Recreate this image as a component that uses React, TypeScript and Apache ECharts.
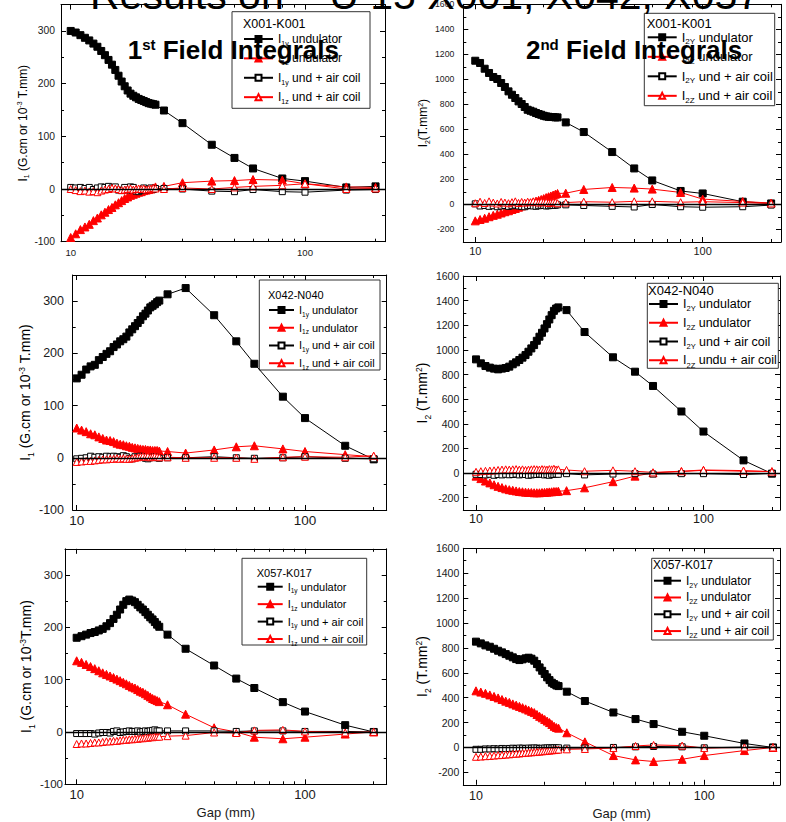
import React, { useEffect, useRef } from "react";
import * as echarts from "echarts";

// ---------- DATA ----------
const GAPS = [10, 10.5, 11, 11.5, 12, 12.5, 13, 13.5, 14, 14.5, 15, 15.5, 16, 16.5, 17, 17.5, 18, 18.5, 19, 19.5, 20, 20.5, 21, 21.5, 22, 22.5, 23, 25, 30, 40, 50, 60, 80, 100, 150, 200];

const X_MAJOR = [10, 100];
const X_MINOR = [20, 30, 40, 50, 60, 70, 80, 90, 200];

// X001-K001, first field integrals
const P1_I1Y_UND = [300, 297, 292, 287, 282, 276, 270, 262, 254, 245, 236, 226, 215, 204, 195, 187, 181, 177, 174, 171, 169, 167, 165, 163, 162, 161, 160, 149, 125, 84, 59, 39, 20, 15, 3, 5];
const P1_I1Z_UND = [-92, -85, -77, -72, -67, -60, -55, -49, -44, -39, -35, -30, -26, -22, -18, -15, -12, -10, -8, -6, -5, -3, -2, -1, 0, 2, 4, 5, 12, 15, 16, 18, 17, 10, 4, 3];
const P1_I1Y_AIR = [3, 2, 3, 1, 3, -1, 2, 4, 3, 5, 2, 4, -2, -3, 3, -2, 4, 3, -4, -5, -3, 2, -2, 0, 2, -1, 1, 1, 0, -4, -5, -1, -5, -6, -2, -1];
const P1_I1Z_AIR = [0, -2, -4, -3, -5, -4, -6, -3, -1, 0, 2, 1, 0, -2, -1, 0, 1, -1, 0, 1, 0, 1, -1, 0, 1, 2, 1, 0, 2, 0, 3, 5, 7, 10, 0, 1];

// X001-K001, second field integrals
const P2_I2Y_UND = [1149, 1131, 1085, 1051, 1019, 1003, 971, 939, 904, 877, 851, 824, 803, 779, 757, 749, 741, 731, 723, 717, 709, 704, 701, 699, 699, 696, 696, 656, 579, 419, 288, 192, 108, 88, 22, 8];
const P2_I2Z_UND = [-131, -120, -110, -98, -87, -78, -68, -58, -50, -40, -32, -22, -12, -3, 5, 12, 20, 27, 33, 40, 47, 55, 62, 68, 75, 82, 88, 90, 120, 136, 131, 123, 96, 43, 24, 11];
const P2_I2Y_AIR = [5, -12, -8, -15, -10, -18, -12, -8, -15, -10, -5, -12, -15, -18, -10, -8, -12, -14, -10, -6, -8, -12, -10, -5, -8, -6, -3, -3, -8, -15, -20, 0, -18, -22, -18, -5];
const P2_I2Z_AIR = [10, 22, 12, 25, 15, 8, 20, 15, 10, 18, 25, 12, 20, 15, 22, 18, 25, 20, 15, 22, 18, 20, 12, 15, 20, 18, 10, 15, 22, 18, 25, 25, 18, 22, 15, 8];

// X042-N040, first field integrals
const P3_I1Y_UND = [152, 159, 169, 175, 178, 187, 193, 199, 204, 212, 217, 223, 227, 232, 240, 246, 252, 258, 264, 271, 276, 282, 288, 291, 294, 298, 301, 313, 325, 273, 223, 180, 117, 76, 23, -3];
const P3_I1Z_UND = [57, 53, 50, 46, 44, 40, 37, 34, 33, 31, 28, 26, 25, 23, 22, 20, 19, 18, 17, 16, 16, 15, 15, 14, 14, 14, 13, 12, 9, 15, 21, 23, 17, 12, 6, 2];
const P3_I1Y_AIR = [-2, -1, 0, 3, 1, 2, 1, 3, 2, 3, 2, 1, 4, 2, -1, -2, 2, 1, 3, 2, -1, -2, 0, 1, 2, 0, -1, 0, 0, 2, 0, -1, 0, 2, -1, -2];
const P3_I1Z_AIR = [-8, -7, -6, -6, -5, -4, -3, -3, -2, -2, -1, -2, -1, -2, -2, -1, 0, 1, 2, 3, 2, 3, 1, 2, 3, 2, 1, 1, 0, 0, 0, -2, 1, 2, 1, 4];

// X042-N040, second field integrals
const P4_I2Y_UND = [923, 891, 869, 856, 848, 842, 848, 853, 864, 883, 899, 918, 937, 958, 985, 1012, 1039, 1074, 1107, 1139, 1174, 1209, 1247, 1282, 1317, 1336, 1345, 1323, 1145, 940, 823, 707, 500, 337, 103, -5];
const P4_I2Z_UND = [-25, -45, -65, -80, -95, -108, -118, -128, -135, -140, -145, -150, -152, -155, -157, -158, -160, -160, -160, -158, -157, -155, -153, -152, -150, -150, -148, -143, -120, -70, -25, 2, 12, 22, 15, 12];
const P4_I2Y_AIR = [-10, -12, -15, -10, -18, -12, -15, -10, -14, -12, -8, -15, -10, -12, -18, -15, -10, -12, -8, -10, -15, -12, -18, -10, -12, -8, -10, -5, -15, -8, -5, -8, -5, -5, -12, -3];
const P4_I2Z_AIR = [10, 15, 18, 20, 22, 25, 28, 30, 28, 30, 32, 28, 30, 25, 28, 30, 32, 30, 28, 32, 30, 28, 32, 30, 35, 28, 30, 25, 15, 22, 15, 5, 15, 25, 20, 12];

// X057-K017, first field integrals
const P5_I1Y_UND = [180, 183, 186, 189, 191, 194, 197, 202, 208, 216, 224, 234, 243, 250, 253, 251, 248, 243, 238, 234, 229, 224, 219, 215, 210, 205, 201, 186, 159, 127, 102, 84, 57, 39, 13, 0];
const P5_I1Z_UND = [136, 133, 129, 125, 121, 117, 113, 110, 107, 104, 101, 98, 95, 92, 89, 86, 84, 81, 78, 76, 73, 70, 67, 64, 62, 60, 58, 52, 34, 8, 0, -10, -13, -10, -4, 0];
const P5_I1Y_AIR = [-3, -3, -3, -3, -4, -2, -1, -1, -2, 1, 2, -1, 0, 1, 2, 1, 1, 2, 0, 1, 2, 1, 2, 3, 4, 2, 2, 2, 2, 2, 1, 2, 2, 1, 1, 0];
const P5_I1Z_AIR = [-23, -22, -22, -21, -20, -20, -19, -18, -18, -17, -17, -16, -15, -15, -14, -14, -13, -13, -12, -12, -11, -11, -10, -10, -9, -9, -9, -8, -7, -1, -2, 3, 4, 1, -1, 0];

// X057-K017, second field integrals
const P6_I2Y_UND = [850, 836, 820, 809, 793, 777, 764, 750, 737, 724, 710, 702, 708, 716, 721, 713, 697, 670, 643, 616, 590, 563, 541, 520, 509, 498, 493, 448, 373, 281, 228, 188, 126, 94, 32, 0];
const P6_I2Z_UND = [455, 445, 435, 422, 410, 398, 385, 372, 362, 350, 340, 330, 320, 310, 300, 290, 280, 265, 250, 238, 225, 212, 200, 185, 170, 160, 155, 118, 45, -65, -100, -113, -95, -65, -25, 0];
const P6_I2Y_AIR = [-15, -15, -12, -12, -10, -12, -8, -10, -8, -6, -8, -5, -6, -8, -5, -6, -4, -5, -8, -6, -5, -4, -3, -5, -2, -4, -3, -5, -5, 0, 5, 8, 5, -3, 3, 0];
const P6_I2Z_AIR = [-75, -73, -70, -68, -65, -62, -60, -57, -55, -52, -50, -48, -45, -43, -41, -39, -37, -35, -33, -31, -29, -27, -25, -23, -21, -19, -17, -15, -12, -5, 12, 20, 15, -5, 0, 0];

// ---------- TEXTS ----------
const MAIN_TITLE = "Results on \u2013 U 15 X001, X042, X057";
const FIRST_TITLE = "{b|1}{p|st}{b| Field Integrals}";
const SECOND_TITLE = "{b|2}{p|nd}{b| Field Integrals}";
const GAP_NAME = "Gap (mm)";

const I1_LEGEND = ["{m|I}{s|1y}{m| undulator}", "{m|I}{s|1z}{m| undulator}", "{m|I}{s|1y}{m| und + air coil}", "{m|I}{s|1z}{m| und + air coil}"];
const I2_LEGEND = ["{m|I}{s|2Y}{m| undulator}", "{m|I}{s|2Z}{m| undulator}", "{m|I}{s|2Y}{m| und + air coil}", "{m|I}{s|2Z}{m| und + air coil}"];
const I2_LEGEND_B = ["{m|I}{s|2Y}{m| undulator}", "{m|I}{s|2Z}{m| undulator}", "{m|I}{s|2Y}{m| und + air coil}", "{m|I}{s|2Z}{m| undu + air coil}"];

const I1_NAME = "{m|I}{s|1}{m| (G.cm or 10}{p|-3}{m| T.mm)}";
const I1_NAME_B = "{m|I}{s|1}{m| (G.cm or 10}{p|-3}{m|T.mm)}";
const I2_NAME_A = "{m|I}{s|2}{m|(T.mm}{p|2}{m|)}";
const I2_NAME = "{m|I}{s|2}{m| (T.mm}{p|2}{m|)}";

// ---------- LAYOUT ----------
const FONT = "'Liberation Sans', Arial, Helvetica, sans-serif";

const PANELS = [
  {
    key: "p1", grid: [61, 4.6, 324, 237.1], x: [9.09, 219.5], y: [-100, 350], split: 5, hide: "max",
    series: [P1_I1Y_UND, P1_I1Z_UND, P1_I1Y_AIR, P1_I1Z_AIR], labels: I1_LEGEND,
    yName: I1_NAME, nameFs: 12, nameGap: 27.6, xfs: 9.6, xm: 6, yfs: 10.3, ym: 6, gapName: false,
    legend: { left: 243, top: 31, w: 29, fs: 12, lh: 16, gap: 3.5 },
    box: [232, 11.7, 138, 96.6], title: ["X001-K001", 243, 23.5, 12.5],
  },
  {
    key: "p2", grid: [463.3, 4.3, 317.7, 237.7], x: [8.86, 221], y: [-300, 1600], split: 10, hide: "min",
    series: [P2_I2Y_UND, P2_I2Z_UND, P2_I2Y_AIR, P2_I2Z_AIR], labels: I2_LEGEND,
    yName: I2_NAME_A, nameFs: 12, nameGap: 30, xfs: 11, xm: 3, yfs: 8.7, ym: 9, gapName: false,
    legend: { left: 646.7, top: 29.3, w: 29, fs: 13, lh: 16, gap: 2.9 },
    box: [644.3, 13.3, 130.4, 92.4], title: ["X001-K001", 646.7, 23.3, 13],
  },
  {
    key: "p3", grid: [72.7, 275, 314, 235], x: [9.6, 228], y: [-100, 350], split: 5, hide: "max",
    series: [P3_I1Y_UND, P3_I1Z_UND, P3_I1Y_AIR, P3_I1Z_AIR], labels: I1_LEGEND,
    yName: I1_NAME, nameFs: 14, nameGap: 36.6, xfs: 13.5, xm: 3, yfs: 12.5, ym: 8.7, gapName: false,
    legend: { left: 268, top: 302.5, w: 25, fs: 11, lh: 15, gap: 2.5 },
    box: [259.3, 280, 120.7, 90], title: ["X042-N040", 268, 295, 11],
  },
  {
    key: "p4", grid: [463.3, 276, 316.7, 234], x: [8.79, 217], y: [-300, 1600], split: 10, hide: "min",
    series: [P4_I2Y_UND, P4_I2Z_UND, P4_I2Y_AIR, P4_I2Z_AIR], labels: I2_LEGEND_B,
    yName: I2_NAME, nameFs: 14, nameGap: 27, xfs: 12.5, xm: 2, yfs: 10.5, ym: 4, gapName: false,
    legend: { left: 648, top: 296, w: 29, fs: 12.5, lh: 16, gap: 2 },
    box: [647.3, 283.3, 131, 85], title: ["X042-N040", 648, 290.5, 13],
  },
  {
    key: "p5", grid: [65, 548.8, 321.7, 235.5], x: [8.89, 228], y: [-100, 350], split: 5, hide: "max",
    series: [P5_I1Y_UND, P5_I1Z_UND, P5_I1Y_AIR, P5_I1Z_AIR], labels: I1_LEGEND,
    yName: I1_NAME_B, nameFs: 14, nameGap: 28, xfs: 13, xm: 4, yfs: 11.5, ym: 2, gapName: true,
    legend: { left: 256.7, top: 579.7, w: 25, fs: 11, lh: 14, gap: 2.7 },
    box: [242, 558.3, 124.7, 86.7], title: ["X057-K017", 256.7, 573.3, 11],
  },
  {
    key: "p6", grid: [463.3, 548.3, 316.7, 236.5], x: [8.8, 214.7], y: [-300, 1600], split: 10, hide: "min",
    series: [P6_I2Y_UND, P6_I2Z_UND, P6_I2Y_AIR, P6_I2Z_AIR], labels: I2_LEGEND,
    yName: I2_NAME, nameFs: 14, nameGap: 28, xfs: 12.5, xm: 5, yfs: 10.5, ym: 4, gapName: true,
    legend: { left: 653, top: 573.2, w: 27, fs: 12, lh: 15, gap: 1.4 },
    box: [651.7, 558.3, 121.6, 81.7], title: ["X057-K017", 653, 565, 12],
  },
];

const SERIES_LOOK = [
  { symbol: "rect", size: 7, fill: "#000000", stroke: "#000000" },
  { symbol: "triangle", size: 8, fill: "#ff0000", stroke: "#ff0000" },
  { symbol: "rect", size: 6, fill: "#ffffff", stroke: "#000000" },
  { symbol: "triangle", size: 7, fill: "#ffffff", stroke: "#ff0000" },
];

function richStyles(fs: number, lh: number) {
  const sfs = Math.round(fs * 0.6 * 2) / 2;
  const base = lh / 2 + 0.35 * fs;
  const subP = Math.max(0, base + 0.22 * fs - 0.85 * sfs);
  const supP = Math.max(0, base - 0.4 * fs - 0.85 * sfs);
  return {
    m: { fontSize: fs, lineHeight: lh, fontFamily: FONT, color: "#000" },
    s: { fontSize: sfs, lineHeight: sfs, padding: [subP, 0, 0, 0], verticalAlign: "top", fontFamily: FONT, color: "#000" },
    p: { fontSize: sfs, lineHeight: sfs, padding: [supP, 0, 0, 0], verticalAlign: "top", fontFamily: FONT, color: "#000" },
  };
}

function buildOption() {
  const grid: any[] = [];
  const xAxis: any[] = [];
  const yAxis: any[] = [];
  const series: any[] = [];
  const legend: any[] = [];
  const elements: any[] = [];
  const labelMap: Record<string, string> = {};

  PANELS.forEach((p, i) => {
    grid.push({
      left: p.grid[0], top: p.grid[1], width: p.grid[2], height: p.grid[3],
      containLabel: false, outerBoundsMode: "none", show: false,
    });
    const xBase = {
      type: "log", logBase: 10, gridIndex: i, min: p.x[0], max: p.x[1],
      splitLine: { show: false },
      axisLine: { show: true, onZero: false, lineStyle: { color: "#000", width: 1 } },
    };
    xAxis.push({
      ...xBase, position: "bottom",
      axisTick: { show: true, inside: true, length: 5, customValues: X_MAJOR, lineStyle: { color: "#000" } },
      axisLabel: { show: true, customValues: X_MAJOR, fontSize: p.xfs, color: "#1a1a1a", margin: p.xm, fontFamily: FONT, formatter: (v: number) => String(v) },
      name: p.gapName ? GAP_NAME : "", nameLocation: "middle", nameGap: 22,
      nameTextStyle: { fontSize: 13, fontFamily: FONT, color: "#1a1a1a" },
    });
    xAxis.push({
      ...xBase, position: "bottom", axisLine: { show: false, onZero: false },
      axisTick: { show: true, inside: true, length: 3, customValues: X_MINOR, lineStyle: { color: "#000" } },
      axisLabel: { show: false },
    });
    xAxis.push({
      ...xBase, position: "top",
      axisTick: { show: true, inside: true, length: 5, customValues: X_MAJOR, lineStyle: { color: "#000" } },
      axisLabel: { show: false },
    });
    xAxis.push({
      ...xBase, position: "top", axisLine: { show: false, onZero: false },
      axisTick: { show: true, inside: true, length: 3, customValues: X_MINOR, lineStyle: { color: "#000" } },
      axisLabel: { show: false },
    });

    const yBase = {
      type: "value", gridIndex: i, min: p.y[0], max: p.y[1], splitNumber: p.split,
      splitLine: { show: false },
      axisLine: { show: true, onZero: false, lineStyle: { color: "#000", width: 1 } },
      axisTick: { show: true, inside: true, length: 5, lineStyle: { color: "#000" } },
      minorTick: { show: true, splitNumber: 2, length: 3, lineStyle: { color: "#000" } },
    };
    yAxis.push({
      ...yBase, position: "left",
      axisLabel: {
        fontSize: p.yfs, color: "#1a1a1a", margin: p.ym, fontFamily: FONT,
        showMaxLabel: p.hide !== "max", showMinLabel: p.hide !== "min",
        formatter: (v: number) => String(v),
      },
      name: p.yName, nameLocation: "middle", nameRotate: 90, nameGap: p.nameGap,
      nameTextStyle: { fontSize: p.nameFs, fontFamily: FONT, color: "#000", rich: richStyles(p.nameFs, p.nameFs + 6) },
    });
    yAxis.push({ ...yBase, position: "right", axisLabel: { show: false } });

    const names: string[] = [];
    p.series.forEach((values, k) => {
      const look = SERIES_LOOK[k];
      const name = `${p.key}-${k}`;
      names.push(name);
      labelMap[name] = p.labels[k];
      series.push({
        type: "line", name, xAxisIndex: 4 * i, yAxisIndex: 2 * i,
        data: GAPS.map((g, j) => [g, values[j]]),
        symbol: look.symbol, symbolSize: look.size, showSymbol: true, showAllSymbol: true,
        itemStyle: { color: look.fill, borderColor: look.stroke, borderWidth: 1 },
        lineStyle: { color: look.stroke, width: 1 },
        emphasis: { disabled: true }, silent: true, clip: true,
        markLine: k === 0 ? {
          silent: true, symbol: ["none", "none"], label: { show: false },
          lineStyle: { color: "#000", width: 1.4, type: "solid" },
          data: [{ yAxis: 0 }],
        } : undefined,
      });
    });

    legend.push({
      orient: "vertical", left: p.legend.left, top: p.legend.top, padding: 0,
      itemGap: p.legend.gap, itemWidth: p.legend.w, itemHeight: 7.5,
      data: names, selectedMode: false,
      formatter: (n: string) => labelMap[n],
      textStyle: { fontSize: p.legend.fs, fontFamily: FONT, color: "#000", rich: richStyles(p.legend.fs, p.legend.lh) },
    });

    elements.push({
      type: "rect", silent: true, z: 3,
      shape: { x: p.box[0], y: p.box[1], width: p.box[2], height: p.box[3] },
      style: { fill: "#fff", stroke: "#333", lineWidth: 1 },
    });
    elements.push({
      type: "text", silent: true, z: 5, x: p.title[1], y: p.title[2],
      style: { text: p.title[0], fontSize: p.title[3], fontFamily: FONT, fill: "#000", align: "left", verticalAlign: "middle" },
    });
  });

  const titleRich = {
    b: { fontSize: 26, fontWeight: "bold", lineHeight: 30, fontFamily: FONT, fill: "#000" },
    p: { fontSize: 15, fontWeight: "bold", lineHeight: 15, padding: [2, 0, 0, 0], verticalAlign: "top", fontFamily: FONT, fill: "#000" },
  };
  elements.push({
    type: "text", silent: true, z: 20, x: 127.7, y: 35.2,
    style: { text: FIRST_TITLE, rich: titleRich, align: "left", verticalAlign: "top" },
  });
  elements.push({
    type: "text", silent: true, z: 20, x: 526, y: 35.2,
    style: { text: SECOND_TITLE, rich: titleRich, align: "left", verticalAlign: "top" },
  });
  elements.push({
    type: "text", silent: true, z: 20, x: 90, y: -5,
    style: { text: MAIN_TITLE, fontSize: 41, fontFamily: FONT, fill: "#000", align: "left", verticalAlign: "middle" },
  });

  return {
    animation: false,
    backgroundColor: "#ffffff",
    grid, xAxis, yAxis, series, legend,
    graphic: { elements },
  };
}

export default function App() {
  const ref = useRef<HTMLDivElement>(null);
  useEffect(() => {
    if (!ref.current) return;
    const chart = echarts.init(ref.current, null, { renderer: "svg" });
    chart.setOption(buildOption() as any);
    return () => chart.dispose();
  }, []);
  return (
    <div
      ref={ref}
      style={{ position: "absolute", left: 0, top: 0, width: 786, height: 822, background: "#fff" }}
    />
  );
}
